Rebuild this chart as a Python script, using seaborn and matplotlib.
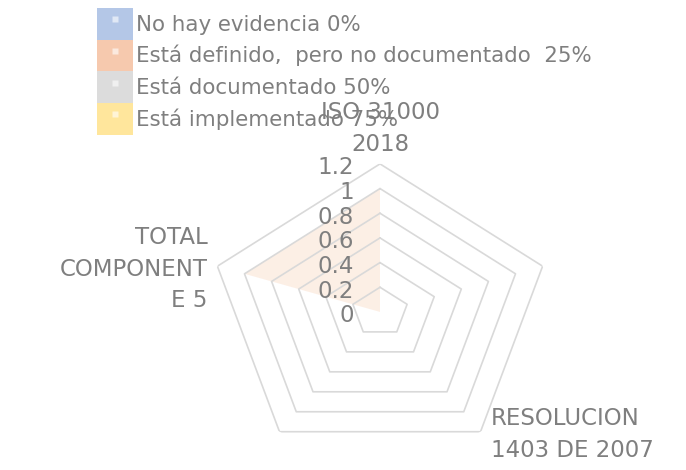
import numpy as np
import matplotlib
matplotlib.use('Agg')
import matplotlib.pyplot as plt
import matplotlib.transforms as mtransforms
from matplotlib.patches import Patch
from matplotlib.lines import Line2D
from matplotlib.legend_handler import HandlerTuple
import seaborn as sns

# categories (Excel wraps the long names)
categories = ['ISO 31000\n2018', '', 'RESOLUCION\n1403 DE 2007', '', 'TOTAL\nCOMPONENT\nE 5']

series_names = ['No hay evidencia 0%',
                'Está definido,  pero no documentado  25%',
                'Está documentado 50%',
                'Está implementado 75%']
no_evidencia = [0, 0, 0, 0, 0]
definido = [1, 0, 0, 0, 1]
documentado = [0, 0, 0, 0, 0]
implementado = [0, 0, 0, 0, 0]

r_ticks = [0, 0.2, 0.4, 0.6, 0.8, 1.0, 1.2]
r_tick_labels = ['0', '0.2', '0.4', '0.6', '0.8', '1', '1.2']

fill_colors = ['#4472C4', '#ED7D31', '#A5A5A5', '#FFC000']
legend_colors = ['#B4C7E7', '#F6C9AE', '#DCDCDC', '#FFE69C']
text_color = '#7F7F7F'
grid_color = '#D9D9D9'

sns.set_theme(style='white')
plt.rcParams['font.family'] = ['DejaVu Sans']

fig = plt.figure(figsize=(6.86, 4.70), dpi=100)
ax = fig.add_axes([0.3047, 0.0213, 0.4985, 0.630], projection='polar')
ax.set_aspect('auto')
ax.set_theta_zero_location('N')
ax.set_theta_direction(-1)
ax.set_ylim(0, 1.2)
ax.grid(False)
ax.set_xticks([])
ax.set_yticks([])
ax.spines['polar'].set_visible(False)
ax.patch.set_alpha(0)

n = len(categories)
theta = np.linspace(0, 2 * np.pi, n, endpoint=False)
theta_closed = np.append(theta, theta[0])

# pentagon grid rings
for lvl in r_ticks[1:]:
    ax.plot(theta_closed, [lvl] * (n + 1), color=grid_color, lw=1.2, zorder=2)

# series areas
all_series = [no_evidencia, definido, documentado, implementado]
for vals, c in zip(all_series, fill_colors):
    ax.fill(theta_closed, vals + vals[:1], color=c, alpha=0.12, lw=0, zorder=1)

# value labels along the first axis
lab_trans = mtransforms.offset_copy(ax.transData, fig=fig, x=-26, y=-4, units='dots')
for lvl, lab in zip(r_ticks, r_tick_labels):
    ax.text(0, lvl, lab, transform=lab_trans, ha='right', va='center',
            fontsize=16.5, color=text_color)

# category labels
offsets = {0: (0, 8, 'center', 'bottom'),
           2: (10, -3, 'left', 'center'),
           4: (-10, -3, 'right', 'center')}
for i, (dx, dy, ha, va) in offsets.items():
    tr = mtransforms.offset_copy(ax.transData, fig=fig, x=dx, y=dy, units='dots')
    ax.text(theta[i], r_ticks[-1], categories[i], transform=tr, ha=ha, va=va,
            fontsize=16.5, color=text_color, linespacing=1.48,
            multialignment=ha if ha != 'center' else 'center')

handles = [(Patch(facecolor=c, edgecolor='none'),
            Line2D([], [], marker='s', color='none', markerfacecolor='white',
                   markeredgecolor='none', markersize=5, alpha=0.6))
           for c in legend_colors]
fig.legend(handles, series_names,
           handler_map={tuple: HandlerTuple(ndivide=1, pad=0)},
           loc='upper left', bbox_to_anchor=(97 / 686, 1 - 8 / 470),
           frameon=False, borderpad=0, borderaxespad=0, labelspacing=0,
           handlelength=1.7, handleheight=1.9, handletextpad=0.1,
           fontsize=15.4, labelcolor=text_color)

fig.savefig('out.png', dpi=100)
